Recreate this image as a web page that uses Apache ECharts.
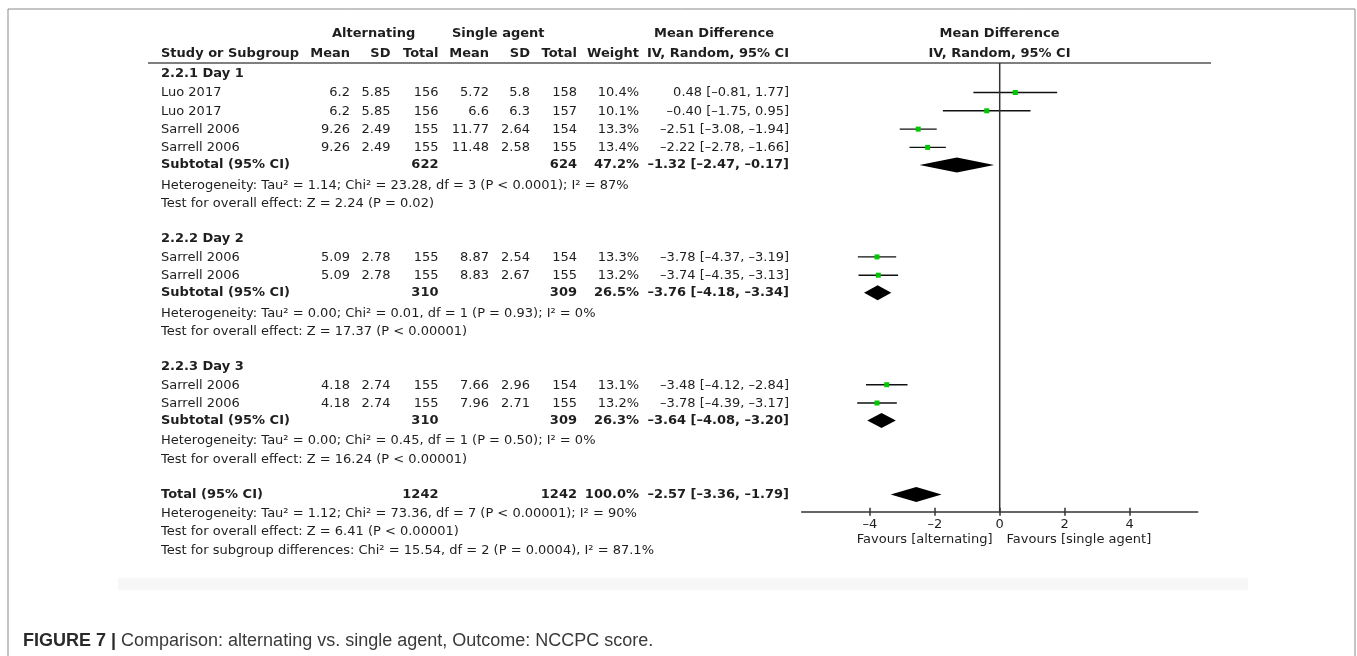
<!DOCTYPE html>
<html>
<head>
<meta charset="utf-8">
<script src="https://cdn.jsdelivr.net/npm/echarts@6/dist/echarts.min.js"></script>
<style>
html,body{margin:0;padding:0;background:#fff;}
#main{width:1357px;height:656px;}
</style>
</head>
<body>
<div id="main"></div>
<script>
// ---------------- DATA ----------------
const groupNames = ['2.2.1 Day 1', '2.2.2 Day 2', '2.2.3 Day 3'];
const studyNames = ['Luo 2017', 'Luo 2017', 'Sarrell 2006', 'Sarrell 2006', 'Sarrell 2006', 'Sarrell 2006', 'Sarrell 2006', 'Sarrell 2006'];
const studyGroup = [0, 0, 0, 0, 1, 1, 2, 2];
const altMean = [6.2, 6.2, 9.26, 9.26, 5.09, 5.09, 4.18, 4.18];
const altSD = [5.85, 5.85, 2.49, 2.49, 2.78, 2.78, 2.74, 2.74];
const altN = [156, 156, 155, 155, 155, 155, 155, 155];
const sglMean = [5.72, 6.6, 11.77, 11.48, 8.87, 8.83, 7.66, 7.96];
const sglSD = [5.8, 6.3, 2.64, 2.58, 2.54, 2.67, 2.96, 2.71];
const sglN = [158, 157, 154, 155, 154, 155, 154, 155];
const weight = [10.4, 10.1, 13.3, 13.4, 13.3, 13.2, 13.1, 13.2];
const md = [0.48, -0.40, -2.51, -2.22, -3.78, -3.74, -3.48, -3.78];
const ciLow = [-0.81, -1.75, -3.08, -2.78, -4.37, -4.35, -4.12, -4.39];
const ciHigh = [1.77, 0.95, -1.94, -1.66, -3.19, -3.13, -2.84, -3.17];

const subAltN = [622, 310, 310];
const subSglN = [624, 309, 309];
const subWeight = [47.2, 26.5, 26.3];
const subMD = [-1.32, -3.76, -3.64];
const subLow = [-2.47, -4.18, -4.08];
const subHigh = [-0.17, -3.34, -3.20];
const heterogeneity = [
  'Heterogeneity: Tau² = 1.14; Chi² = 23.28, df = 3 (P < 0.0001); I² = 87%',
  'Heterogeneity: Tau² = 0.00; Chi² = 0.01, df = 1 (P = 0.93); I² = 0%',
  'Heterogeneity: Tau² = 0.00; Chi² = 0.45, df = 1 (P = 0.50); I² = 0%'
];
const overallEffect = [
  'Test for overall effect: Z = 2.24 (P = 0.02)',
  'Test for overall effect: Z = 17.37 (P < 0.00001)',
  'Test for overall effect: Z = 16.24 (P < 0.00001)'
];

const totalAltN = 1242;
const totalSglN = 1242;
const totalWeight = 100.0;
const totalMD = -2.57;
const totalLow = -3.36;
const totalHigh = -1.79;
const totalHet = 'Heterogeneity: Tau² = 1.12; Chi² = 73.36, df = 7 (P < 0.00001); I² = 90%';
const totalEffect = 'Test for overall effect: Z = 6.41 (P < 0.00001)';
const subgroupDiff = 'Test for subgroup differences: Chi² = 15.54, df = 2 (P = 0.0004), I² = 87.1%';

const tickValues = [-4, -2, 0, 2, 4];
const favoursLeft = 'Favours [alternating]';
const favoursRight = 'Favours [single agent]';
const captionBold = 'FIGURE 7 |';
const captionText = ' Comparison: alternating vs. single agent, Outcome: NCCPC score.';

// ---------------- LAYOUT ----------------
const FONT = '"DejaVu Sans", sans-serif';
const TXT = '#1e1e1e';
const COL = {study: 161, altMean: 350, altSD: 390.5, altN: 438.5, sglMean: 489, sglSD: 530, sglN: 577, weight: 639, ci: 789};
const PLOT_TOP = 63, PLOT_BOTTOM = 511.7;

const rowY = [];
const groupLayout = [];
let cy = 74;
groupNames.forEach((g, gi) => {
  const rec = {header: cy};
  let ry = cy + 19;
  studyGroup.forEach((sg, i) => { if (sg === gi) { rowY[i] = ry; ry += 18.3; } });
  rec.subtotal = ry - 18.3 + 17;
  rec.het = rec.subtotal + 20.5;
  rec.test = rec.het + 18.5;
  groupLayout.push(rec);
  cy = rec.test + 34.5;
});
const totalY = groupLayout[groupLayout.length - 1].test + 35;
const totalHetY = totalY + 19;
const totalTestY = totalHetY + 18.5;
const subgroupY = totalTestY + 18.5;

function fmtNum(v, d) { return (d == null ? String(v) : v.toFixed(d)).replace('-', '–'); }
function fmtCI(m, l, h) { return fmtNum(m, 2) + ' [' + fmtNum(l, 2) + ', ' + fmtNum(h, 2) + ']'; }

const graphics = [];
function txt(x, y, s, align, bold, extra) {
  graphics.push(Object.assign({
    type: 'text', x: x, y: y, silent: true,
    style: {text: s, font: (bold ? 'bold ' : '') + '13px ' + FONT, fill: TXT, textAlign: align || 'left', textVerticalAlign: 'middle'}
  }, extra || {}));
}

// frame, band, header line
graphics.push({type: 'rect', shape: {x: 8, y: 9, width: 1347, height: 700}, style: {fill: 'none', stroke: '#8a8a8a', lineWidth: 1}, silent: true});
graphics.push({type: 'rect', shape: {x: 118, y: 578, width: 1130, height: 12}, style: {fill: '#f7f7f7'}, silent: true});
graphics.push({type: 'line', shape: {x1: 148, y1: PLOT_TOP, x2: 1211, y2: PLOT_TOP}, style: {stroke: '#555', lineWidth: 1.5}, silent: true});

// headers
txt(332, 33.5, 'Alternating', 'left', true);
txt(452, 33.5, 'Single agent', 'left', true);
txt(714, 33.5, 'Mean Difference', 'center', true);
txt(999.5, 33.5, 'Mean Difference', 'center', true);
txt(COL.study, 54, 'Study or Subgroup', 'left', true);
txt(COL.altMean, 54, 'Mean', 'right', true);
txt(COL.altSD, 54, 'SD', 'right', true);
txt(COL.altN, 54, 'Total', 'right', true);
txt(COL.sglMean, 54, 'Mean', 'right', true);
txt(COL.sglSD, 54, 'SD', 'right', true);
txt(COL.sglN, 54, 'Total', 'right', true);
txt(COL.weight, 54, 'Weight', 'right', true);
txt(COL.ci, 54, 'IV, Random, 95% CI', 'right', true);
txt(999.5, 54, 'IV, Random, 95% CI', 'center', true);

// groups
groupNames.forEach((g, gi) => {
  const L = groupLayout[gi];
  txt(COL.study, L.header, g, 'left', true);
  studyGroup.forEach((sg, i) => {
    if (sg !== gi) return;
    const y = rowY[i];
    txt(COL.study, y, studyNames[i]);
    txt(COL.altMean, y, fmtNum(altMean[i]), 'right');
    txt(COL.altSD, y, fmtNum(altSD[i]), 'right');
    txt(COL.altN, y, String(altN[i]), 'right');
    txt(COL.sglMean, y, fmtNum(sglMean[i]), 'right');
    txt(COL.sglSD, y, fmtNum(sglSD[i]), 'right');
    txt(COL.sglN, y, String(sglN[i]), 'right');
    txt(COL.weight, y, weight[i].toFixed(1) + '%', 'right');
    txt(COL.ci, y, fmtCI(md[i], ciLow[i], ciHigh[i]), 'right');
  });
  txt(COL.study, L.subtotal, 'Subtotal (95% CI)', 'left', true);
  txt(COL.altN, L.subtotal, String(subAltN[gi]), 'right', true);
  txt(COL.sglN, L.subtotal, String(subSglN[gi]), 'right', true);
  txt(COL.weight, L.subtotal, subWeight[gi].toFixed(1) + '%', 'right', true);
  txt(COL.ci, L.subtotal, fmtCI(subMD[gi], subLow[gi], subHigh[gi]), 'right', true);
  txt(COL.study, L.het, heterogeneity[gi]);
  txt(COL.study, L.test, overallEffect[gi]);
});

txt(COL.study, totalY, 'Total (95% CI)', 'left', true);
txt(COL.altN, totalY, String(totalAltN), 'right', true);
txt(COL.sglN, totalY, String(totalSglN), 'right', true);
txt(COL.weight, totalY, totalWeight.toFixed(1) + '%', 'right', true);
txt(COL.ci, totalY, fmtCI(totalMD, totalLow, totalHigh), 'right', true);
txt(COL.study, totalHetY, totalHet);
txt(COL.study, totalTestY, totalEffect);
txt(COL.study, subgroupY, subgroupDiff);

txt(992.5, 539.5, favoursLeft, 'right');
txt(1006.5, 539.5, favoursRight, 'left');

// caption
graphics.push({
  type: 'text', x: 23, y: 641, silent: true,
  style: {
    text: '{b|' + captionBold + '}{r|' + captionText + '}',
    textVerticalAlign: 'middle', textAlign: 'left',
    rich: {
      b: {fontFamily: '"Liberation Sans", Arial, sans-serif', fontWeight: 'bold', fontSize: 18, fill: '#2a2a2a', color: '#2a2a2a'},
      r: {fontFamily: '"Liberation Sans", Arial, sans-serif', fontSize: 18, fill: '#3a3a3a', color: '#3a3a3a'}
    }
  }
});

// ---------------- CHART ----------------
const studyData = md.map((m, i) => [m, ciLow[i], ciHigh[i], rowY[i] - 0.5]);
const diamondData = subMD.map((m, gi) => [m, subLow[gi], subHigh[gi], groupLayout[gi].subtotal])
  .concat([[totalMD, totalLow, totalHigh, totalY]]);

const tickFmt = v => (v < 0 ? '–' + Math.abs(v) : String(v));

const chart = echarts.init(document.getElementById('main'), null, {renderer: 'canvas'});
chart.setOption({
  animation: false,
  backgroundColor: '#fff',
  grid: {left: 801.7, top: PLOT_TOP, width: 396, height: PLOT_BOTTOM - PLOT_TOP},
  xAxis: [{
    type: 'value', min: -6.1, max: 6.1, position: 'bottom',
    axisLine: {show: true, onZero: false, lineStyle: {color: '#333', width: 1.5}},
    axisTick: {show: true, length: 4, customValues: tickValues, lineStyle: {color: '#333', width: 1.5}},
    axisLabel: {show: true, customValues: tickValues, formatter: tickFmt, color: TXT, fontFamily: FONT, fontSize: 13, margin: 6},
    splitLine: {show: false}
  }, {
    type: 'value', min: -6.1, max: 6.1, position: 'bottom',
    axisLine: {show: false, onZero: false},
    axisTick: {show: true, inside: true, length: 4, customValues: tickValues, lineStyle: {color: '#333', width: 1.5}},
    axisLabel: {show: false},
    splitLine: {show: false}
  }],
  yAxis: {type: 'value', min: PLOT_TOP, max: PLOT_BOTTOM, inverse: true, show: false},
  series: [{
    type: 'line', silent: true, symbol: 'none', xAxisIndex: 0,
    data: [[0, PLOT_TOP], [0, PLOT_BOTTOM]],
    lineStyle: {color: '#333', width: 1.5}
  }, {
    type: 'custom', silent: true, xAxisIndex: 0,
    data: studyData,
    encode: {x: [0, 1, 2], y: 3},
    renderItem: (params, api) => {
      const y = api.value(3);
      const pL = api.coord([api.value(1), y]);
      const pH = api.coord([api.value(2), y]);
      const pM = api.coord([api.value(0), y]);
      return {type: 'group', children: [
        {type: 'line', shape: {x1: pL[0], y1: pL[1], x2: pH[0], y2: pH[1]}, style: {stroke: '#111', lineWidth: 1.4}},
        {type: 'rect', shape: {x: pM[0] - 2.5, y: pM[1] - 2.5, width: 5, height: 5}, style: {fill: '#00c800'}}
      ]};
    }
  }, {
    type: 'custom', silent: true, xAxisIndex: 0,
    data: diamondData,
    encode: {x: [0, 1, 2], y: 3},
    renderItem: (params, api) => {
      const y = api.value(3);
      const pL = api.coord([api.value(1), y]);
      const pH = api.coord([api.value(2), y]);
      const pM = api.coord([api.value(0), y]);
      return {type: 'polygon', shape: {points: [[pL[0], pL[1]], [pM[0], pM[1] - 7.5], [pH[0], pH[1]], [pM[0], pM[1] + 7.5]]}, style: {fill: '#000'}};
    }
  }],
  graphic: {elements: graphics}
});
</script>
</body>
</html>
